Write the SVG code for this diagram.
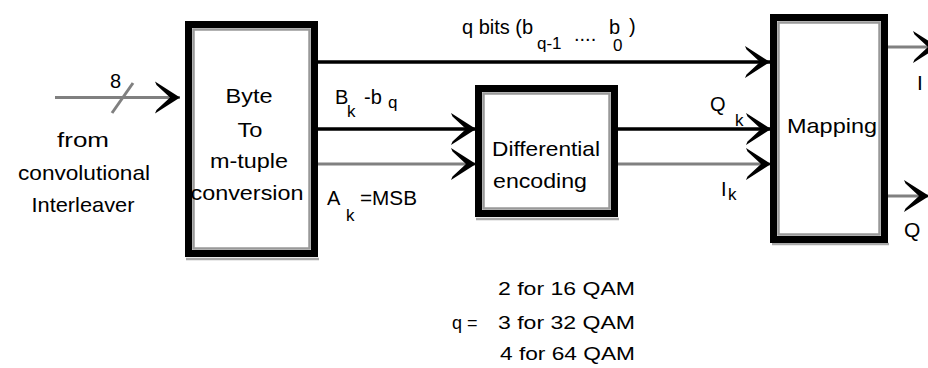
<svg xmlns="http://www.w3.org/2000/svg" width="928" height="368" viewBox="0 0 928 368">
<style>
text{font-family:"Liberation Sans",Arial,sans-serif;fill:#000}
.t{font-size:21px}
.s{font-size:20px}
.sub{font-size:17px}
.b{font-size:18px}
.box{fill:#fff;stroke:#000;stroke-width:7}
.inner{fill:none;stroke:#999;stroke-width:2.5}
.shadow{fill:none;stroke:#aaa;stroke-width:2.5}
.k{stroke:#000;stroke-width:3.5;fill:none}
.g{stroke:#808080;stroke-width:3;fill:none}
</style>
<defs>
<marker id="ah" markerUnits="userSpaceOnUse" viewBox="-25 -17 27 34" refX="1" refY="0" markerWidth="27" markerHeight="34" orient="auto">
<path d="M1,0 L-24,-16 L-22.5,-12.5 L-9,0 L-22.5,12.5 L-24,16 Z" fill="#000"/>
</marker>
</defs>
<g id="connectors">
<line class="g" x1="55" y1="97.5" x2="180" y2="97.5" marker-end="url(#ah)"/>
<line class="g" x1="112" y1="113" x2="133" y2="83" stroke-width="2.5"/>
<line class="k" x1="318" y1="62" x2="770" y2="62" marker-end="url(#ah)"/>
<line class="k" x1="318" y1="129" x2="476" y2="129" marker-end="url(#ah)"/>
<line class="g" x1="318" y1="164" x2="476" y2="164" marker-end="url(#ah)"/>
<line class="k" x1="618" y1="129" x2="771" y2="129" marker-end="url(#ah)"/>
<line class="g" x1="618" y1="164" x2="771" y2="164" marker-end="url(#ah)"/>
<line class="g" x1="888" y1="47" x2="938" y2="47" marker-end="url(#ah)"/>
<line class="g" x1="888" y1="196" x2="929" y2="196" marker-end="url(#ah)"/>
</g>
<g id="input-label">
<text class="s" x="110" y="88">8</text>
<text class="t" x="83" y="147" text-anchor="middle" textLength="52" lengthAdjust="spacingAndGlyphs">from</text>
<text class="t" x="84" y="180" text-anchor="middle" textLength="132" lengthAdjust="spacingAndGlyphs">convolutional</text>
<text class="t" x="83" y="212" text-anchor="middle" textLength="103" lengthAdjust="spacingAndGlyphs">Interleaver</text>
</g>
<g id="byte-to-mtuple">
<line class="shadow" x1="186" y1="259" x2="319" y2="259"/>
<rect class="box" x="188.5" y="24.5" width="126" height="229"/>
<rect class="inner" x="193.5" y="29.5" width="116" height="219"/>
<text class="t" x="249" y="103" text-anchor="middle" textLength="47" lengthAdjust="spacingAndGlyphs">Byte</text>
<text class="t" x="250" y="137" text-anchor="middle" textLength="25" lengthAdjust="spacingAndGlyphs">To</text>
<text class="t" x="249" y="168" text-anchor="middle" textLength="78" lengthAdjust="spacingAndGlyphs">m-tuple</text>
<text class="t" x="247" y="200" text-anchor="middle" textLength="113" lengthAdjust="spacingAndGlyphs">conversion</text>
</g>
<g id="differential-encoding">
<line class="shadow" x1="476" y1="219" x2="619" y2="219"/>
<rect class="box" x="478.5" y="88.5" width="136" height="125"/>
<rect class="inner" x="483.5" y="93.5" width="126" height="115"/>
<text class="t" x="546" y="156" text-anchor="middle" textLength="108" lengthAdjust="spacingAndGlyphs">Differential</text>
<text class="t" x="540" y="188" text-anchor="middle" textLength="94" lengthAdjust="spacingAndGlyphs">encoding</text>
</g>
<g id="mapping">
<line class="shadow" x1="772" y1="244" x2="889" y2="244"/>
<rect class="box" x="773.5" y="17.5" width="111" height="222"/>
<rect class="inner" x="778.5" y="22.5" width="101" height="212"/>
<text class="t" x="832" y="133" text-anchor="middle" textLength="90" lengthAdjust="spacingAndGlyphs">Mapping</text>
</g>
<g id="labels">
<text class="s" x="462" y="34">q bits (b</text>
<text class="sub" x="537" y="49">q-1</text>
<text class="s" x="574" y="41">....</text>
<text class="s" x="609" y="34">b</text>
<text class="sub" x="613" y="51">0</text>
<text class="s" x="629" y="33">)</text>
<text class="s" x="335" y="104">B</text>
<text class="sub" x="347" y="117">k</text>
<text class="s" x="364" y="104">-b</text>
<text class="sub" x="388" y="108">q</text>
<text class="s" x="327" y="205">A</text>
<text class="sub" x="346" y="221">k</text>
<text class="s" x="360" y="205" textLength="57" lengthAdjust="spacingAndGlyphs">=MSB</text>
<text class="s" x="710" y="111">Q</text>
<text class="sub" x="735" y="126">k</text>
<text class="s" x="721" y="196">I</text>
<text class="sub" x="728" y="200">k</text>
<text class="t" x="917" y="90">I</text>
<text class="t" x="904" y="237">Q</text>
</g>
<g id="q-values">
<text class="b" x="498" y="295" textLength="137" lengthAdjust="spacingAndGlyphs">2 for 16 QAM</text>
<text class="b" x="452" y="329">q =</text>
<text class="b" x="498" y="329" textLength="137" lengthAdjust="spacingAndGlyphs">3 for 32 QAM</text>
<text class="b" x="500" y="360" textLength="135" lengthAdjust="spacingAndGlyphs">4 for 64 QAM</text>
</g>
</svg>
